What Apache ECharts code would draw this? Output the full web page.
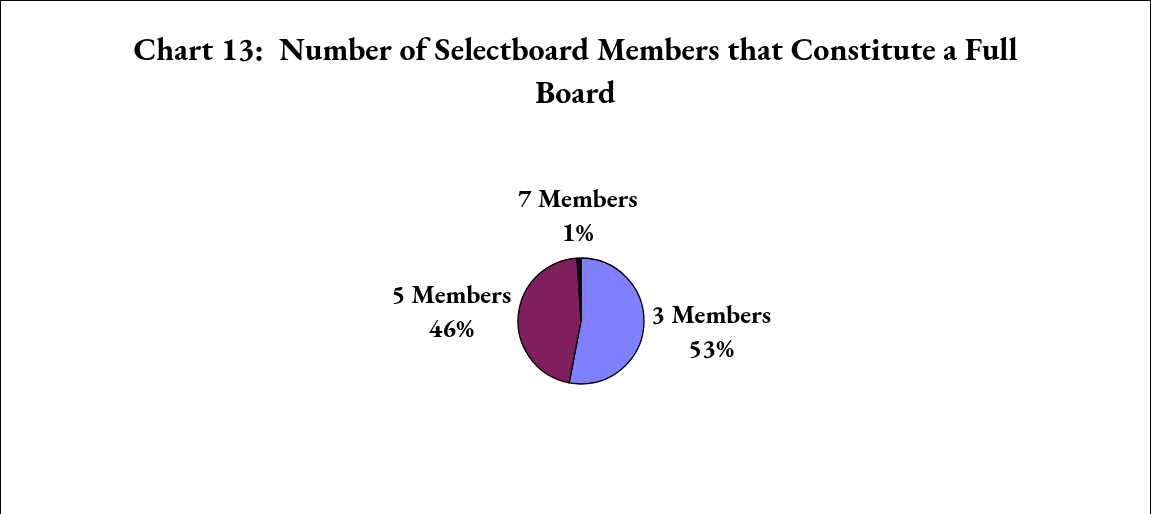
<!DOCTYPE html>
<html>
<head>
<meta charset="utf-8">
<script src="https://cdn.jsdelivr.net/npm/echarts@6/dist/echarts.min.js"></script>
<style>
  html, body { margin: 0; padding: 0; background: #fff; }
  #chart {
    width: 1151px;
    height: 514px;
    box-sizing: border-box;
    border: 1px solid #000;
    border-bottom: none;
  }
</style>
</head>
<body>
<div id="chart"></div>
<script>
// 数据
const categories = ["3 Members", "5 Members", "7 Members"];
const shares = [53, 46, 1];
const sliceColors = ["#8080FF", "#801F5E", "#111111"];

const serif = "'EB Garamond', Garamond, 'Liberation Serif', 'DejaVu Serif', serif";

// 饼图位置
const pieCenter = [580, 320];
const pieRadius = 63;
const labelGap = 5;

// 每块扇形的中间角度（从12点方向顺时针）
const total = shares.reduce((a, b) => a + b, 0);
const midAngles = [];
let acc = 0;
shares.forEach((v) => {
  midAngles.push(((acc + v / 2) / total) * Math.PI * 2);
  acc += v;
});

const chart = echarts.init(document.getElementById("chart"));

chart.setOption({
  animation: false,
  title: {
    text: "Chart 13:  Number of Selectboard Members that Constitute a Full\nBoard",
    left: "center",
    top: 24,
    textStyle: {
      fontFamily: serif,
      fontWeight: "bold",
      fontSize: 32,
      lineHeight: 43,
      color: "#000"
    }
  },
  series: [
    {
      type: "pie",
      center: pieCenter,
      radius: pieRadius,
      startAngle: 90,
      clockwise: true,
      itemStyle: {
        borderColor: "#000",
        borderWidth: 1.3
      },
      label: {
        show: true,
        position: "outside",
        formatter: (p) => p.name + "\n" + p.value + "%",
        fontFamily: serif,
        fontWeight: "bold",
        fontSize: 26,
        lineHeight: 34,
        color: "#000"
      },
      labelLine: { show: false },
      // 标签居中放在扇形外侧
      labelLayout: (params) => {
        const a = midAngles[params.dataIndex];
        const dx = Math.sin(a);
        const dy = -Math.cos(a);
        const w = params.labelRect.width / 2;
        const h = params.labelRect.height / 2;
        const d = pieRadius + labelGap + w * Math.abs(dx) + h * Math.abs(dy);
        return {
          x: pieCenter[0] + dx * d,
          y: pieCenter[1] + dy * d,
          align: "center",
          verticalAlign: "middle"
        };
      },
      data: categories.map((name, i) => ({
        name: name,
        value: shares[i],
        itemStyle: { color: sliceColors[i] }
      }))
    }
  ]
});
</script>
</body>
</html>
